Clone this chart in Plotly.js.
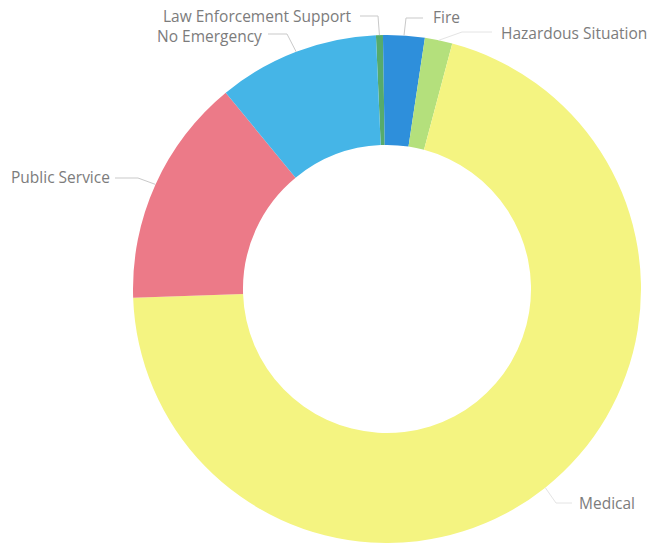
<!DOCTYPE html>
<html>
<head>
<meta charset="utf-8">
<script src="https://cdn.plot.ly/plotly-3.0.1.min.js"></script>
<style>html,body{margin:0;padding:0;background:#fff;}#chart{width:647px;height:543px;}</style>
</head>
<body>
<div id="chart"></div>
<script>
const categories = ["Law Enforcement Support", "Fire", "Hazardous Situation", "Medical", "Public Service", "No Emergency"];
const callCounts = [44, 264, 175, 7030, 1460, 1025];
const sliceColors = ["#56ab6c", "#2e8fdb", "#b4e07c", "#f4f481", "#ec7a88", "#45b5e7"];

// layout geometry (pixels)
const W = 647, H = 543;
const M = {l: 133, r: 6, t: 35, b: 0};
const plotW = W - M.l - M.r, plotH = H - M.t - M.b;
const cx = M.l + plotW / 2, cy = M.t + plotH / 2, R = Math.min(plotW, plotH) / 2;
const ROT = -2.5;

// label placement: text anchor point (px), side, and leader-line bend points (px)
const labelPlacement = [
  {tx: 353, ty: 16, side: "right", bend: [[378, 16], [360, 16]]},
  {tx: 432, ty: 17, side: "left", bend: [[406, 18], [423, 18]]},
  {tx: 500, ty: 33, side: "left", bend: [[462, 32], [492, 32]], faint: true},
  {tx: 578, ty: 503, side: "left", bend: [[556, 503], [572, 503]], faint: true},
  {tx: 111, ty: 177, side: "right", bend: [[138, 178], [115, 178]]},
  {tx: 263, ty: 36, side: "right", bend: [[287, 34], [268, 34]]}
];

const toPX = x => (x - M.l) / plotW;
const toPY = y => 1 - (y - M.t) / plotH;

const total = callCounts.reduce((a, b) => a + b, 0);
let cum = 0;
const annotations = [], shapes = [];
categories.forEach((cat, i) => {
  const mid = (ROT + (cum + callCounts[i] / 2) / total * 360) * Math.PI / 180;
  cum += callCounts[i];
  const ex = cx + R * Math.sin(mid), ey = cy - R * Math.cos(mid);
  const p = labelPlacement[i];
  annotations.push({
    text: cat, xref: "paper", yref: "paper",
    x: toPX(p.tx), y: toPY(p.ty),
    xanchor: p.side, yanchor: "middle", showarrow: false,
    borderpad: 0,
    font: {size: 15.5, color: "#7c7c7c", family: "Open Sans, sans-serif"}
  });
  let path = "M" + toPX(ex) + "," + toPY(ey);
  p.bend.forEach(b => { path += " L" + toPX(b[0]) + "," + toPY(b[1]); });
  shapes.push({
    type: "path", xref: "paper", yref: "paper", path: path,
    line: {color: p.faint ? "#e4e4e4" : "#c9c9c9", width: 1}
  });
});

const data = [{
  type: "pie",
  labels: categories,
  values: callCounts,
  sort: false,
  direction: "clockwise",
  rotation: ROT,
  hole: 0.567,
  textinfo: "none",
  marker: {colors: sliceColors, line: {width: 0}},
  showlegend: false
}];

const layout = {
  width: W, height: H,
  margin: M,
  paper_bgcolor: "#fff",
  showlegend: false,
  annotations: annotations,
  shapes: shapes
};

Plotly.newPlot("chart", data, layout, {displayModeBar: false, staticPlot: true});
</script>
</body>
</html>
